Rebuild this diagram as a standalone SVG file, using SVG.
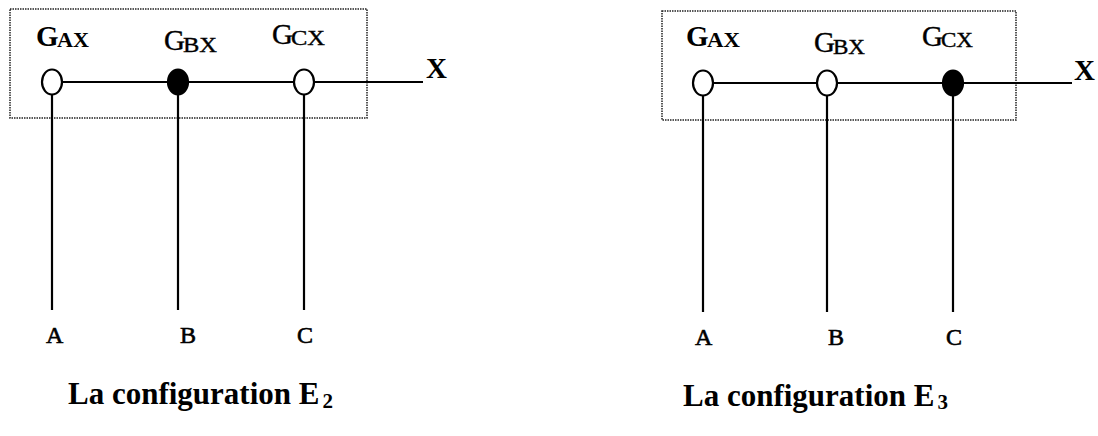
<svg xmlns="http://www.w3.org/2000/svg" width="1098" height="436" viewBox="0 0 1098 436">
<style>
.box{fill:none;stroke:#222;stroke-width:1.5;stroke-dasharray:1.5 1}
.ln{stroke:#000;stroke-width:2.2;fill:none}
.open{fill:#fff;stroke:#000;stroke-width:2.2}
.full{fill:#000;stroke:#000;stroke-width:2.2}
text{font-family:"Liberation Serif","Times New Roman",serif;fill:#000}
.gb{font-size:29px;font-weight:bold}
.gr{font-size:29px;stroke:#000;stroke-width:0.4}
.sb{font-size:21px;font-weight:bold}
.sr{font-size:22px;stroke:#000;stroke-width:0.4}
.ax{font-size:29px;font-weight:bold}
.lab{font-size:24px;stroke:#000;stroke-width:0.6}
.ttl{font-size:31px;font-weight:bold}
.tsub{font-size:21px}
</style>
<rect width="1098" height="436" fill="#fff"/>
<g id="config-E2">
  <rect class="box" x="10" y="9" width="357" height="109"/>
  <g id="connectors-E2">
    <line class="ln" x1="52" y1="82" x2="423" y2="82"/>
    <line class="ln" x1="52" y1="94" x2="52" y2="310"/>
    <line class="ln" x1="178" y1="94" x2="178" y2="310"/>
    <line class="ln" x1="304" y1="94" x2="304" y2="310"/>
  </g>
  <g id="E2-GAX"><ellipse class="open" cx="52" cy="82" rx="10" ry="12.5"/><text class="gb" x="36" y="46">G</text><text class="sb" x="57" y="47" textLength="32" lengthAdjust="spacingAndGlyphs">AX</text></g>
  <g id="E2-GBX"><ellipse class="full" cx="178" cy="82" rx="10" ry="12.5"/><text class="gr" x="164" y="50">G</text><text class="sr" x="183" y="52" textLength="34" lengthAdjust="spacingAndGlyphs">BX</text></g>
  <g id="E2-GCX"><ellipse class="open" cx="304" cy="82" rx="10" ry="12.5"/><text class="gr" x="272" y="44">G</text><text class="sr" x="291" y="45" textLength="34" lengthAdjust="spacingAndGlyphs">CX</text></g>
  <text class="ax" x="426" y="78">X</text>
  <text class="lab" x="46" y="343">A</text>
  <text class="lab" x="180" y="343">B</text>
  <text class="lab" x="297" y="343">C</text>
  <text class="ttl" x="68" y="404">La configuration E<tspan class="tsub" dx="3" dy="4">2</tspan></text>
</g>
<g id="config-E3">
  <rect class="box" x="662" y="11" width="354" height="109"/>
  <g id="connectors-E3">
    <line class="ln" x1="703" y1="83" x2="1072" y2="83"/>
    <line class="ln" x1="703" y1="95" x2="703" y2="312"/>
    <line class="ln" x1="827" y1="95" x2="827" y2="312"/>
    <line class="ln" x1="953" y1="95" x2="953" y2="312"/>
  </g>
  <g id="E3-GAX"><ellipse class="open" cx="703" cy="83" rx="10" ry="12.5"/><text class="gb" x="686" y="46">G</text><text class="sb" x="707" y="47" textLength="33" lengthAdjust="spacingAndGlyphs">AX</text></g>
  <g id="E3-GBX"><ellipse class="open" cx="827" cy="83" rx="10" ry="12.5"/><text class="gr" x="814" y="52">G</text><text class="sr" x="833" y="54" textLength="32" lengthAdjust="spacingAndGlyphs">BX</text></g>
  <g id="E3-GCX"><ellipse class="full" cx="953" cy="83" rx="10" ry="12.5"/><text class="gr" x="922" y="46">G</text><text class="sr" x="941" y="47" textLength="32" lengthAdjust="spacingAndGlyphs">CX</text></g>
  <text class="ax" x="1074" y="80">X</text>
  <text class="lab" x="695" y="345">A</text>
  <text class="lab" x="828" y="345">B</text>
  <text class="lab" x="946" y="345">C</text>
  <text class="ttl" x="683" y="406">La configuration E<tspan class="tsub" dx="3" dy="3">3</tspan></text>
</g>
</svg>
